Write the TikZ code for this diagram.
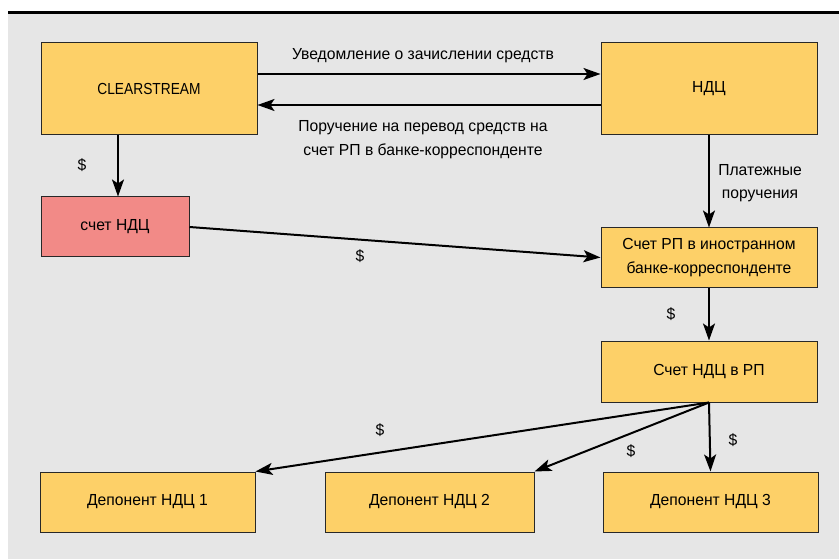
\documentclass[tikz,border=0pt]{standalone}
\usepackage{fontspec}
\setmainfont[FakeStretch=0.98]{Liberation Sans}
\newfontfamily\latinnarrow[FakeStretch=0.86]{Liberation Sans}
\usetikzlibrary{arrows.meta}

\definecolor{bggray}{RGB}{230,230,230}
\definecolor{boxorange}{RGB}{253,208,104}
\definecolor{boxred}{RGB}{242,138,135}
\definecolor{boxline}{RGB}{40,40,40}

\begin{document}
\begin{tikzpicture}[x=1pt,y=-1pt,
    txt/.style={font=\fontsize{16}{23.5}\selectfont, text=black, align=center, inner sep=0pt},
    acct/.style={txt, draw=boxline, line width=1pt, fill=boxorange, minimum height=60pt},
    arr/.style={line width=2pt, -{Stealth[length=17pt,width=12pt,inset=4pt]}}]

    % background and top rule
    \useasboundingbox (0,0) rectangle (839,559);
    \fill[white] (0,0) rectangle (839,559);
    \fill[bggray] (8,14) rectangle (839,559);
    \draw[line width=3pt] (8,12.5) -- (839,12.5);

    \node[acct, minimum width=216pt, minimum height=92pt] (clear) at (149,89) {\latinnarrow CLEARSTREAM};
    \node[acct, minimum width=216pt, minimum height=92pt] (ndc) at (709,89) {НДЦ};
    \node[acct, fill=boxred, minimum width=148pt] (schet) at (115,227) {счет НДЦ};
    \node[acct, minimum width=216pt, minimum height=59pt] (korr) at (709,257.5) {Счет РП в иностранном\\банке-корреспонденте};
    \node[acct, minimum width=216pt, minimum height=61pt] (rp) at (709,371.5) {Счет НДЦ в РП};

    \node[acct, minimum width=215pt] (dep1) at (147.5,502) {Депонент НДЦ 1};
    \node[acct, minimum width=209pt] (dep2) at (429.5,502) {Депонент НДЦ 2};
    \node[acct, minimum width=215pt] (dep3) at (710.5,502) {Депонент НДЦ 3};

    \draw[arr] ([yshift=15pt]clear.east) -- ([yshift=15pt]ndc.west);
    \draw[arr] ([yshift=-16pt]ndc.west) -- ([yshift=-16pt]clear.east);
    \draw[arr] ([xshift=-31pt]clear.south) -- ([xshift=-31pt]clear.south |- schet.north);
    \draw[arr] (ndc.south) -- (korr.north);
    \draw[arr] (schet.east) -- (korr.west);
    \draw[arr] (korr.south) -- (rp.north);
    \draw[arr] (rp.south) -- (dep1.north east);
    \draw[arr] (rp.south) -- (dep2.north east);
    \draw[arr] (rp.south) -- (dep3.north);

    \path (423,56) node[txt] (lbl1) {Уведомление о зачислении средств};
    \path (423,139.5) node[txt] (lbl2) {Поручение на перевод средств на\\счет РП в банке-корреспонденте};
    \path (760,183) node[txt] (lbl3) {Платежные\\поручения};
    \path (82,165) node[txt] (usd1) {\$};
    \path (360,256) node[txt] (usd2) {\$};
    \path (671,314) node[txt] (usd3) {\$};
    \path (380,430) node[txt] (usd4) {\$};
    \path (631,451) node[txt] (usd5) {\$};
    \path (733,440) node[txt] (usd6) {\$};

\end{tikzpicture}
\end{document}
